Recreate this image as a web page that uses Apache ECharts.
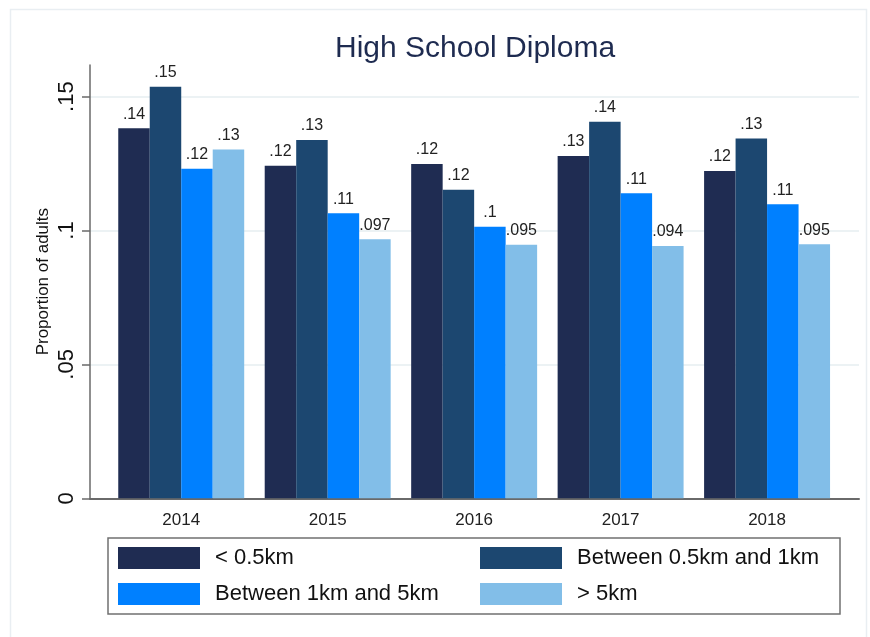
<!DOCTYPE html>
<html>
<head>
<meta charset="utf-8">
<script src="https://cdn.jsdelivr.net/npm/echarts@6/dist/echarts.min.js"></script>
<style>html,body{margin:0;padding:0;background:#fff}#c{width:870px;height:637px}</style>
</head>
<body>
<div id="c"></div>
<script>
const categories = ['2014', '2015', '2016', '2017', '2018'];
const seriesNames = ['< 0.5km', 'Between 0.5km and 1km', 'Between 1km and 5km', '> 5km'];
const lessHalfKm = [0.1382, 0.1242, 0.1248, 0.1278, 0.1222];
const halfTo1Km = [0.1537, 0.1338, 0.1152, 0.1406, 0.1344];
const oneTo5Km = [0.1231, 0.1064, 0.1014, 0.1139, 0.1098];
const over5Km = [0.1302, 0.0967, 0.0947, 0.0942, 0.0949];
const yTickValues = [0, 0.05, 0.1, 0.15];
const seriesColors = ['#1f2c52', '#1c4770', '#0080ff', '#82bee8'];

const FONT = 'Liberation Sans, Arial, sans-serif';
const yMax = 0.1618;
function stataFmt(v) {
  if (v === 0) return '0';
  return String(Number(Number(v).toPrecision(2))).replace(/^0/, '');
}
function tickFmt(v) {
  const r = Number(Number(v).toFixed(4));
  if (r === 0) return '0';
  return String(r).replace(/^0/, '');
}
const allSeries = [lessHalfKm, halfTo1Km, oneTo5Km, over5Km];

const chart = echarts.init(document.getElementById('c'), null, {renderer: 'canvas'});
chart.setOption({
  animation: false,
  backgroundColor: '#fff',
  textStyle: {fontFamily: FONT},
  graphic: [{
    type: 'rect', left: 8, top: 7, silent: true, z: -10,
    shape: {width: 856, height: 640},
    style: {fill: 'none', stroke: '#e9eef2', lineWidth: 1.5}
  }],
  title: {
    text: 'High School Diploma',
    left: 330, top: 29,
    textStyle: {fontSize: 30, fontWeight: 'normal', color: '#1e2b50', fontFamily: FONT}
  },
  legend: {
    data: seriesNames,
    left: 108, top: 538,
    width: 740,
    orient: 'horizontal',
    padding: [4.5, 3, 4.5, 10],
    borderColor: '#707070', borderWidth: 1.5,
    itemWidth: 82, itemHeight: 22, itemGap: 5,
    icon: 'rect',
    textStyle: {fontSize: 22, color: '#111', fontFamily: FONT, lineHeight: 31, width: 260, padding: [0, 0, 0, 10]}
  },
  grid: [
    {left: 90, right: 11, top: 65, bottom: 138.7, containLabel: false},
    {left: 108, right: 29.7, top: 65, bottom: 138.7, containLabel: false}
  ],
  xAxis: [
    {
      gridIndex: 0, type: 'value', min: 0, max: 1,
      axisLine: {show: true, lineStyle: {color: '#6a6a6a', width: 2}},
      axisTick: {show: false}, axisLabel: {show: false}, splitLine: {show: false}
    },
    {
      gridIndex: 1, type: 'category', data: categories,
      axisLine: {show: false}, axisTick: {show: false},
      axisLabel: {fontSize: 17, color: '#222', margin: 14, fontFamily: FONT}
    }
  ],
  yAxis: [
    {
      gridIndex: 0, type: 'value', min: 0, max: yMax, interval: 0.05,
      axisLine: {show: true, lineStyle: {color: '#6a6a6a', width: 1.5}},
      axisTick: {show: true, length: 8, lineStyle: {color: '#6a6a6a', width: 1.5}, customValues: yTickValues},
      axisLabel: {rotate: 90, fontSize: 22, color: '#111', margin: 12, formatter: tickFmt, fontFamily: FONT,
        customValues: yTickValues},
      splitLine: {show: true, lineStyle: {color: '#e6eef1', width: 1.5}},
      name: 'Proportion of adults', nameLocation: 'middle', nameGap: 38, nameMoveOverlap: false,
      nameTextStyle: {fontSize: 17, color: '#111', fontFamily: FONT}
    },
    {
      gridIndex: 1, type: 'value', min: 0, max: yMax,
      show: false, splitLine: {show: false}
    }
  ],
  series: allSeries.map((arr, i) => ({
    name: seriesNames[i],
    type: 'bar',
    xAxisIndex: 1, yAxisIndex: 1,
    data: arr,
    barGap: '0%',
    barCategoryGap: '14%',
    itemStyle: {color: seriesColors[i]},
    label: {show: true, position: 'top', distance: 6, fontSize: 16, color: '#222', fontFamily: FONT,
      formatter: p => stataFmt(p.value)}
  }))
});
</script>
</body>
</html>
